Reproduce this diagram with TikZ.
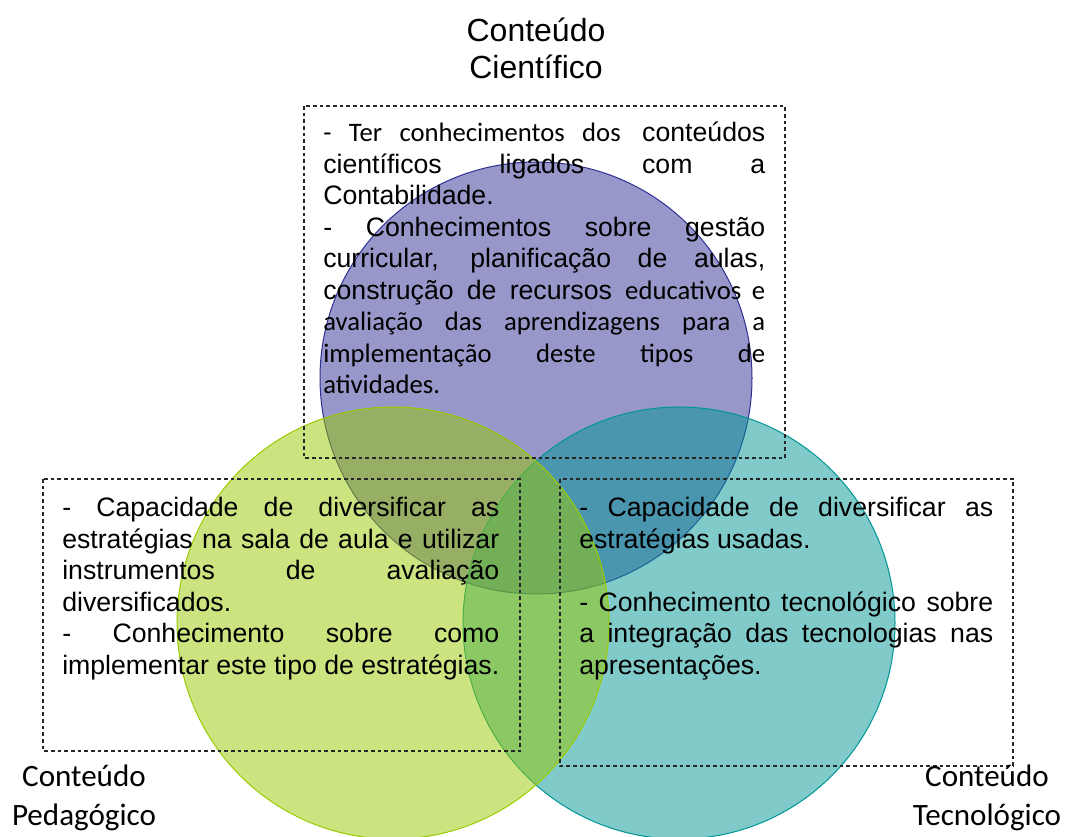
\documentclass[tikz,border=0pt]{standalone}
\usepackage{fontspec}
\setmainfont{Liberation Sans}
\newfontfamily\calibri{Carlito}
\definecolor{cienc}{RGB}{47,47,149}
\definecolor{ciencline}{RGB}{46,49,146}
\definecolor{tecno}{RGB}{1,149,149}
\definecolor{tecnoline}{RGB}{0,150,150}
\definecolor{pedag}{RGB}{153,201,0}
\definecolor{pedagline}{RGB}{153,204,0}

\begin{document}
\begin{tikzpicture}[x=0.75pt,y=-0.75pt,
	venn/.style={fill opacity=.5, line width=.75pt},
	box/.style={draw=black!85, line width=.9pt, dash pattern=on 2.8pt off 2.2pt},
	txt/.style={inner sep=0pt, anchor=base west, align=justify,
		font=\fontsize{20}{23.6}\selectfont},
	titulo/.style={inner sep=0pt, anchor=base, text width=220pt, align=center}]
	\useasboundingbox (0,0) rectangle (1067,837);
	% circles
	\filldraw[venn, fill=cienc, draw=ciencline] (536,378) circle[radius=162pt];
	\filldraw[venn, fill=tecno, draw=tecnoline] (679,623) circle[radius=162pt];
	\filldraw[venn, fill=pedag, draw=pedagline] (393,623) circle[radius=162pt];
	% dashed boxes
	\draw[box] (304,106) rectangle (785,458);
	\draw[box] (43,479) rectangle (520,751);
	\draw[box] (560,479) rectangle (1013,766);
	% titles
	\node (tc) [titulo, font=\fontsize{24}{27.5}\selectfont] at (536,42) {Conteúdo\\Científico};
	\node (tp) [titulo, font=\calibri\fontsize{23.3}{29.5}\selectfont] at (84,786) {Conteúdo\\Pedagógico};
	\node (tt) [titulo, font=\calibri\fontsize{23.3}{29.5}\selectfont] at (987,786) {Conteúdo\\Tecnológico};
	% box texts
	\node (xc) [txt, text width=331.5pt] at (323,142) {\hyphenpenalty=10000\tolerance=10000
		{\calibri - Ter conhecimentos dos} conteúdos\linebreak
		científicos ligados com a\linebreak
		Contabilidade.\par
		- Conhecimentos sobre gestão\linebreak
		curricular, planificação de aulas,\linebreak
		construção de recursos {\calibri educativos e}\linebreak
		{\calibri avaliação das aprendizagens para a\linebreak
		implementação deste tipos de\linebreak
		atividades.}};
	\node (xp) [txt, text width=327.75pt] at (62,517) {\hyphenpenalty=10000\tolerance=10000
		- Capacidade de diversificar as\linebreak
		estratégias na sala de aula e utilizar\linebreak
		instrumentos de avaliação\linebreak
		diversificados.\par
		- Conhecimento sobre como\linebreak
		implementar este tipo de estratégias.};
	\node (xt) [txt, text width=310.5pt] at (579,517) {\hyphenpenalty=10000\tolerance=10000
		- Capacidade de diversificar as\linebreak
		estratégias usadas.\par\vspace{\baselineskip}
		- Conhecimento tecnológico sobre\linebreak
		a integração das tecnologias nas\linebreak
		apresentações.};
\end{tikzpicture}
\end{document}
